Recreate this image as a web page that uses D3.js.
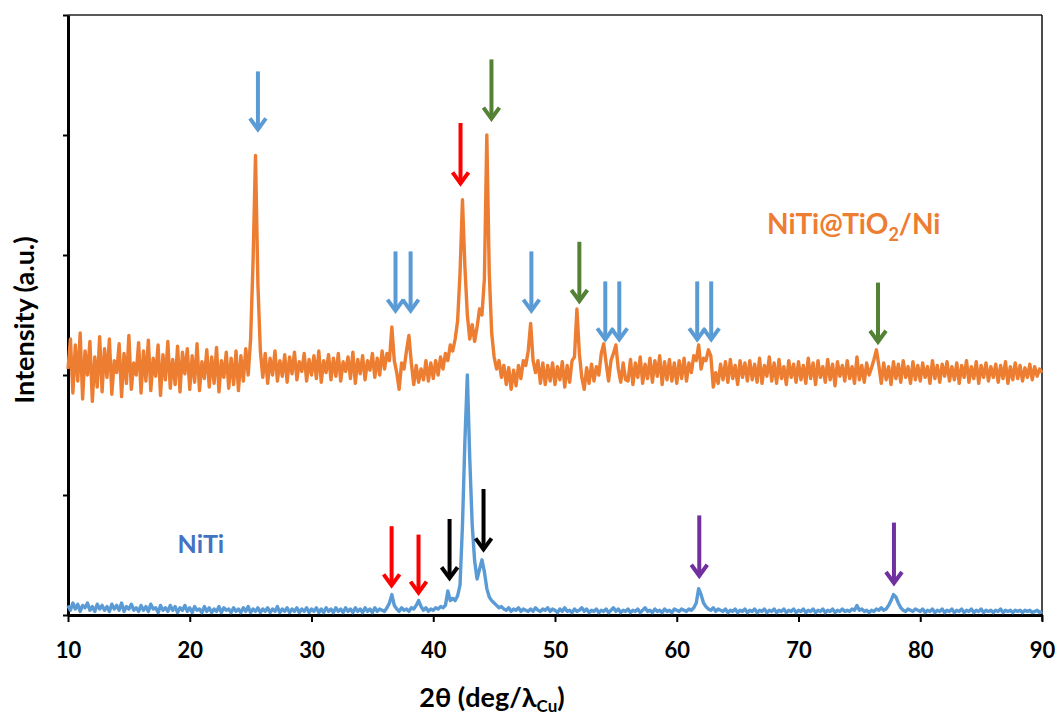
<!DOCTYPE html>
<html>
<head>
<meta charset="utf-8">
<script src="https://cdn.jsdelivr.net/npm/d3@7"></script>
<style>
html,body{margin:0;padding:0;background:#fff;}
svg{display:block;}
text{font-family:Lato,"Open Sans",sans-serif;font-weight:bold;}
</style>
</head>
<body>
<svg id="chart" width="1057" height="720"></svg>
<script>
// ---- Data ----
const angleStart = 10, angleStep = 0.2; // 2θ grid: 10.0 ... 90.0 deg
const xTicks = [10, 20, 30, 40, 50, 60, 70, 80, 90];
const yTicks = [0, 1, 2, 3, 4, 5];

// NiTi@TiO2/Ni pattern (offset intensity, a.u.)
const coatedIntensity = [
2.05,2.30,1.85,2.25,1.95,2.35,1.80,2.20,2.00,2.28,
1.78,2.15,1.90,2.32,1.86,2.22,1.98,2.30,1.84,2.12,
2.02,2.26,1.82,2.18,1.93,2.33,1.88,2.10,2.00,2.27,
1.85,2.20,1.95,2.29,1.87,2.14,1.99,2.25,1.83,2.17,
1.96,2.28,1.89,2.13,1.92,2.24,1.86,2.19,2.01,2.22,
1.88,2.16,1.94,2.26,1.87,2.11,1.97,2.21,1.90,2.15,
1.93,2.23,1.86,2.12,1.98,2.19,1.89,2.14,1.92,2.20,
1.87,2.16,1.95,2.22,2.00,2.30,2.95,3.83,2.75,2.20,
1.98,2.18,1.93,2.14,2.00,2.20,1.95,2.12,1.99,2.17,
1.94,2.15,2.01,2.19,1.96,2.11,2.03,2.18,1.95,2.13,
2.00,2.16,1.97,2.20,1.94,2.12,2.02,2.17,1.96,2.14,
1.99,2.18,1.95,2.11,2.03,2.15,1.97,2.19,1.93,2.13,
2.01,2.16,1.96,2.12,2.04,2.18,1.98,2.14,2.00,2.20,
2.05,2.18,2.12,2.40,2.12,2.02,1.88,2.10,2.05,2.20,
2.33,2.10,1.92,2.08,1.94,2.05,1.96,2.12,1.95,2.10,
1.97,2.12,2.00,2.15,2.05,2.18,2.12,2.25,2.20,2.30,
2.45,2.85,3.46,2.90,2.50,2.30,2.42,2.28,2.40,2.55,
2.50,2.80,4.00,2.85,2.35,2.15,2.05,2.12,1.98,2.08,
1.92,2.06,1.88,2.04,1.91,2.08,1.97,2.12,2.08,2.20,
2.43,2.12,2.02,2.12,1.93,2.10,1.92,2.08,1.95,2.10,
1.92,2.07,1.96,2.11,1.90,2.08,1.94,2.12,2.15,2.55,
2.18,1.98,1.88,2.06,1.93,2.09,1.95,2.07,2.00,2.18,
2.26,2.10,1.95,2.12,2.18,2.25,2.05,1.94,2.10,1.96,
1.95,2.13,1.92,2.10,1.98,2.15,1.93,2.09,1.97,2.14,
1.94,2.12,1.99,2.16,1.92,2.11,1.96,2.13,1.95,2.10,
1.93,2.12,1.97,2.14,1.95,2.10,2.02,2.16,2.12,2.25,
2.05,2.14,2.12,2.21,2.16,1.90,2.02,1.93,2.09,1.96,
2.11,1.94,2.13,1.97,2.08,1.92,2.12,1.98,2.10,1.95,
2.12,1.96,2.09,1.94,2.14,1.93,2.08,1.99,2.15,1.95,
2.10,1.93,2.13,1.97,2.07,1.92,2.12,1.98,2.09,1.94,
2.11,1.96,2.08,1.93,2.14,1.97,2.10,1.92,2.12,1.98,
2.07,1.94,2.13,1.96,2.09,1.91,2.11,1.99,2.08,1.95,
2.12,1.97,2.07,1.93,2.15,1.96,2.08,1.94,2.10,2.00,
2.06,2.13,2.21,2.08,1.93,2.10,1.96,2.07,1.92,2.11,
1.97,2.09,1.94,2.12,1.98,2.07,1.93,2.11,1.96,2.08,
1.95,2.10,1.98,2.07,1.93,2.12,1.97,2.08,1.94,2.09,
1.99,2.11,1.95,2.07,1.96,2.10,1.93,2.08,1.98,2.12,
1.94,2.07,1.97,2.11,1.93,2.08,1.98,2.10,1.95,2.07,
1.98,2.09,1.94,2.08,1.97,2.11,1.93,2.07,1.96,2.10,
1.97,2.08,1.95,2.06,1.98,2.09,1.96,2.07,1.99,2.05,
2.02
];

// NiTi pattern (intensity, a.u.)
const nitiIntensity = [
0.08,0.04,0.10,0.05,0.09,0.03,0.08,0.06,0.10,0.04,
0.07,0.03,0.09,0.05,0.08,0.04,0.07,0.03,0.09,0.05,
0.08,0.04,0.10,0.03,0.07,0.05,0.09,0.04,0.06,0.03,
0.08,0.04,0.07,0.03,0.09,0.05,0.06,0.02,0.08,0.04,
0.06,0.03,0.08,0.04,0.07,0.02,0.06,0.04,0.08,0.03,
0.06,0.02,0.07,0.04,0.05,0.02,0.07,0.03,0.06,0.02,
0.05,0.03,0.07,0.02,0.06,0.04,0.05,0.02,0.06,0.03,
0.05,0.02,0.06,0.03,0.07,0.02,0.05,0.03,0.06,0.02,
0.05,0.03,0.06,0.02,0.05,0.03,0.07,0.02,0.05,0.03,
0.06,0.02,0.05,0.03,0.06,0.02,0.05,0.03,0.06,0.02,
0.05,0.03,0.06,0.02,0.05,0.02,0.06,0.03,0.05,0.02,
0.06,0.03,0.05,0.02,0.06,0.03,0.05,0.02,0.06,0.03,
0.05,0.02,0.06,0.03,0.05,0.02,0.06,0.03,0.05,0.04,
0.03,0.06,0.10,0.17,0.08,0.05,0.03,0.06,0.04,0.05,
0.03,0.06,0.05,0.08,0.12,0.07,0.04,0.06,0.03,0.05,
0.04,0.06,0.05,0.07,0.06,0.08,0.20,0.12,0.14,0.12,
0.16,0.25,0.75,1.45,2.00,1.30,0.75,0.45,0.30,0.38,
0.46,0.36,0.22,0.15,0.12,0.10,0.08,0.06,0.07,0.05,
0.04,0.06,0.03,0.05,0.04,0.06,0.03,0.05,0.04,0.03,
0.05,0.03,0.06,0.04,0.03,0.05,0.04,0.06,0.03,0.05,
0.04,0.02,0.05,0.03,0.06,0.03,0.04,0.02,0.05,0.03,
0.04,0.06,0.03,0.05,0.02,0.04,0.03,0.05,0.02,0.04,
0.03,0.05,0.02,0.04,0.06,0.03,0.05,0.02,0.04,0.03,
0.05,0.02,0.04,0.03,0.05,0.02,0.04,0.06,0.03,0.04,
0.02,0.05,0.03,0.04,0.02,0.05,0.03,0.04,0.02,0.05,
0.04,0.03,0.05,0.04,0.03,0.05,0.04,0.06,0.10,0.22,
0.17,0.10,0.07,0.05,0.04,0.06,0.03,0.05,0.04,0.03,
0.05,0.02,0.04,0.03,0.05,0.02,0.04,0.03,0.05,0.02,
0.04,0.03,0.05,0.02,0.04,0.03,0.05,0.02,0.04,0.03,
0.05,0.02,0.04,0.03,0.05,0.02,0.04,0.03,0.05,0.02,
0.04,0.03,0.05,0.02,0.04,0.03,0.05,0.02,0.04,0.03,
0.05,0.02,0.04,0.03,0.05,0.02,0.04,0.03,0.05,0.03,
0.04,0.03,0.05,0.04,0.08,0.04,0.05,0.03,0.04,0.02,
0.04,0.03,0.05,0.04,0.06,0.04,0.05,0.08,0.12,0.17,
0.15,0.10,0.06,0.04,0.03,0.05,0.04,0.03,0.05,0.04,
0.03,0.05,0.02,0.04,0.03,0.05,0.02,0.04,0.03,0.05,
0.02,0.04,0.03,0.05,0.02,0.04,0.03,0.05,0.02,0.04,
0.03,0.05,0.02,0.04,0.03,0.05,0.02,0.04,0.03,0.04,
0.02,0.04,0.03,0.05,0.02,0.04,0.03,0.04,0.02,0.04,
0.03,0.04,0.02,0.04,0.03,0.04,0.02,0.03,0.04,0.02,
0.03
];

// Phase markers: 2θ, arrow top, arrow tip (a.u.), colour
const markerAngle = [25.6, 36.9, 38.14, 42.24, 44.78, 48.06, 52.0, 54.13, 55.28, 61.68, 62.83, 76.53,
                     36.58, 38.79, 41.34, 44.13, 61.85, 77.84];
const markerTop   = [4.53, 3.03, 3.03, 4.10, 4.63, 3.03, 3.11, 2.78, 2.78, 2.78, 2.78, 2.77,
                     0.74, 0.67, 0.80, 1.05, 0.83, 0.77];
const markerTip   = [4.03, 2.52, 2.52, 3.58, 4.12, 2.52, 2.60, 2.28, 2.28, 2.28, 2.28, 2.26,
                     0.23, 0.17, 0.29, 0.53, 0.31, 0.25];
const markerColor = ["#5B9BD5","#5B9BD5","#5B9BD5","#FF0000","#548235","#5B9BD5","#548235","#5B9BD5","#5B9BD5","#5B9BD5","#5B9BD5","#548235",
                     "#FF0000","#FF0000","#000000","#000000","#7030A0","#7030A0"];

// Series labels
const seriesNames  = ["NiTi@TiO", "NiTi"];
const seriesSub    = ["2", ""];
const seriesTail   = ["/Ni", ""];
const labelAngle   = [67.42, 19.0];
const labelValue   = [3.175, 0.517];
const labelColor   = ["#ED7D31", "#4472C4"];

// ---- Chart ----
const svg = d3.select("#chart");
const x = d3.scaleLinear().domain([10, 90]).range([68, 1042]);
const y = d3.scaleLinear().domain([0, 5]).range([615, 15]);

const angles = d3.range(coatedIntensity.length).map(i => +(angleStart + i * angleStep).toFixed(1));

// frame (top and right)
svg.append("line").attr("x1", x(10)).attr("x2", x(90)).attr("y1", y(5)).attr("y2", y(5))
  .attr("stroke", "#222").attr("stroke-width", 1.5);
svg.append("line").attr("x1", x(90)).attr("x2", x(90)).attr("y1", y(5)).attr("y2", y(0) + 6)
  .attr("stroke", "#111").attr("stroke-width", 1.5);

// y axis
const yAxis = svg.append("g").attr("transform", `translate(${x(10)},0)`)
  .call(d3.axisLeft(y).tickValues(yTicks).tickFormat("").tickSize(5).tickSizeOuter(0));
yAxis.select(".domain").attr("stroke", "#000").attr("stroke-width", 3);
yAxis.selectAll(".tick line").attr("stroke", "#000").attr("stroke-width", 2);

// x axis
const xAxis = svg.append("g").attr("transform", `translate(0,${y(0)})`)
  .call(d3.axisBottom(x).tickValues(xTicks).tickSize(7).tickSizeOuter(0).tickPadding(0));
xAxis.select(".domain").attr("stroke", "#000").attr("stroke-width", 3);
xAxis.selectAll(".tick line").attr("stroke", "#000").attr("stroke-width", 2);
xAxis.selectAll(".tick text").attr("fill", "#000").attr("font-size", 22)
  .attr("font-family", "Lato, sans-serif").attr("font-weight", "bold")
  .attr("dy", 0).attr("y", 43);

// axis titles
const xt = svg.append("text").attr("x", 492).attr("y", 707).attr("text-anchor", "middle")
  .attr("font-size", 27).attr("fill", "#000");
xt.append("tspan").text("2θ (deg/λ");
xt.append("tspan").attr("font-size", 17).attr("dy", 5).text("Cu");
xt.append("tspan").attr("dy", -5).text(")");

svg.append("text").attr("transform", "translate(34,320) rotate(-90)")
  .attr("text-anchor", "middle").attr("font-size", 27).attr("fill", "#000")
  .text("Intensity (a.u.)");

// series
const line = d3.line().x(d => x(d[0])).y(d => y(d[1])).curve(d3.curveLinear);
svg.append("path").datum(angles.map((a, i) => [a, coatedIntensity[i]]))
  .attr("d", line).attr("fill", "none").attr("stroke", "#ED7D31")
  .attr("stroke-width", 3.4).attr("stroke-linejoin", "round");
svg.append("path").datum(angles.map((a, i) => [a, nitiIntensity[i]]))
  .attr("d", line).attr("fill", "none").attr("stroke", "#5B9BD5")
  .attr("stroke-width", 3.4).attr("stroke-linejoin", "round");

// arrows
const arrows = svg.append("g");
markerAngle.forEach((a, i) => {
  const cx = x(a), ty = y(markerTop[i]), py = y(markerTip[i]);
  const g = arrows.append("g").attr("stroke", markerColor[i]).attr("fill", "none")
    .attr("stroke-width", 4);
  g.append("line").attr("x1", cx).attr("x2", cx).attr("y1", ty).attr("y2", py - 2);
  g.append("path").attr("d", `M${cx - 8},${py - 13}L${cx},${py - 2}L${cx + 8},${py - 13}`)
    .attr("stroke-linejoin", "miter").attr("stroke-miterlimit", 10);
});

// labels
seriesNames.forEach((n, i) => {
  const t = svg.append("text").attr("x", x(labelAngle[i])).attr("y", y(labelValue[i]))
    .attr("fill", labelColor[i]).attr("font-size", i === 0 ? 28 : 25);
  t.append("tspan").text(n);
  if (seriesSub[i]) {
    t.append("tspan").attr("font-size", 18).attr("dy", 7).text(seriesSub[i]);
    t.append("tspan").attr("dy", -7).text(seriesTail[i]);
  }
});
</script>
</body>
</html>
